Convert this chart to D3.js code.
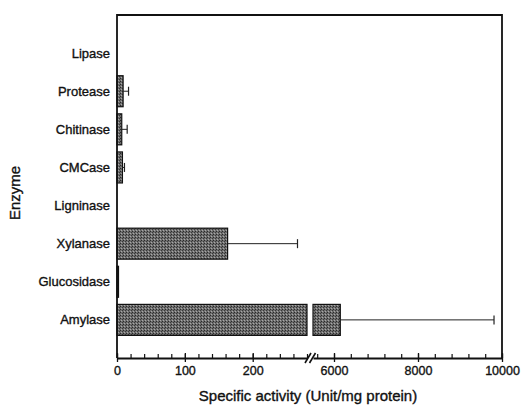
<!DOCTYPE html>
<html>
<head>
<meta charset="utf-8">
<script src="https://cdn.jsdelivr.net/npm/d3@7"></script>
<style>
  body { margin: 0; background: #fff; }
  svg text { font-family: "Liberation Sans", Arial, sans-serif; fill: #111; stroke: #111; stroke-width: 0.35px; }
</style>
</head>
<body>
<div id="chart"></div>
<script>
// enzyme activities
const enzymes = ["Lipase", "Protease", "Chitinase", "CMCase", "Ligninase", "Xylanase", "Glucosidase", "Amylase"];
const activity = [0, 9, 7, 8, 0, 163, 2, 6150];
const errors = [0, 8, 8, 3, 0, 103, 0, 3660];

const lowTicks = [0, 100, 200];
const highTicks = [6000, 8000, 10000];

const width = 522, height = 405;
const margin = { top: 15, right: 20, bottom: 47, left: 117 };
const plotR = width - margin.right, plotB = height - margin.bottom;
const breakL = 307, breakR = 313;

const svg = d3.select("#chart").append("svg")
  .attr("width", width)
  .attr("height", height);

// stippled grey fill like the scanned bars
const pat = svg.append("defs").append("pattern")
  .attr("id", "stip").attr("width", 3).attr("height", 3)
  .attr("patternUnits", "userSpaceOnUse");
pat.append("rect").attr("width", 3).attr("height", 3).attr("fill", "#6e6e6e");
pat.append("rect").attr("width", 1).attr("height", 1).attr("fill", "#2a2a2a");
pat.append("rect").attr("x", 2).attr("y", 1).attr("width", 1).attr("height", 1).attr("fill", "#3a3a3a");
pat.append("rect").attr("x", 1).attr("y", 2).attr("width", 1).attr("height", 1).attr("fill", "#a8a8a8");

// broken x axis: two linear pieces
const xLow = d3.scaleLinear().domain([0, 280]).range([margin.left, breakL]);
const xHigh = d3.scaleLinear().domain([5500, 10000]).range([breakR, plotR]);
const y = d3.scalePoint().domain(enzymes).range([margin.top, plotB]).padding(1);
const barH = 31;

const rows = enzymes.map((name, i) => ({ name: name, v: activity[i], e: errors[i] }));

// bars
rows.forEach(d => {
  if (d.v <= 0) return;
  const y0 = y(d.name) - barH / 2;
  if (d.v <= 280) {
    svg.append("rect")
      .attr("x", margin.left).attr("y", y0)
      .attr("width", Math.max(xLow(d.v) - margin.left, 1.5)).attr("height", barH)
      .attr("fill", "url(#stip)").attr("stroke", "#111").attr("stroke-width", 1.2);
  } else {
    svg.append("rect")
      .attr("x", margin.left).attr("y", y0)
      .attr("width", breakL - margin.left).attr("height", barH)
      .attr("fill", "url(#stip)").attr("stroke", "#111").attr("stroke-width", 1.2);
    svg.append("rect")
      .attr("x", breakR).attr("y", y0)
      .attr("width", xHigh(d.v) - breakR).attr("height", barH)
      .attr("fill", "url(#stip)").attr("stroke", "#111").attr("stroke-width", 1.2);
  }
});

// error bars (positive side only)
rows.forEach(d => {
  if (d.e <= 0) return;
  const sc = d.v <= 280 ? xLow : xHigh;
  const cy = y(d.name);
  svg.append("line")
    .attr("x1", sc(d.v)).attr("x2", sc(d.v + d.e))
    .attr("y1", cy).attr("y2", cy)
    .attr("stroke", "#222").attr("stroke-width", 1);
  svg.append("line")
    .attr("x1", sc(d.v + d.e)).attr("x2", sc(d.v + d.e))
    .attr("y1", cy - 4.5).attr("y2", cy + 4.5)
    .attr("stroke", "#222").attr("stroke-width", 1.2);
});

// frame: left axis, top and right borders
svg.append("path")
  .attr("d", `M${margin.left},${plotB}V${margin.top}H${plotR}V${plotB}`)
  .attr("fill", "none").attr("stroke", "#111").attr("stroke-width", 1.8);

// x axis pieces
const axLow = svg.append("g").attr("transform", `translate(0,${plotB})`)
  .call(d3.axisBottom(xLow).tickValues(d3.range(0, 281, 20)).tickSize(0).tickFormat(""));
const axHigh = svg.append("g").attr("transform", `translate(0,${plotB})`)
  .call(d3.axisBottom(xHigh).tickValues(d3.range(5600, 10001, 400)).tickSize(0).tickFormat(""));
[axLow, axHigh].forEach(g => {
  g.select(".domain").attr("stroke", "#111").attr("stroke-width", 1.8);
  g.selectAll(".tick line").attr("y1", -4).attr("y2", 0).attr("stroke", "#111").attr("stroke-width", 1.2);
});

// major ticks and labels
function majors(scale, vals) {
  const g = svg.append("g").attr("transform", `translate(0,${plotB})`)
    .call(d3.axisBottom(scale).tickValues(vals).tickSize(4).tickPadding(4).tickFormat(d3.format("d")));
  g.select(".domain").remove();
  g.selectAll(".tick line").attr("y1", -5).attr("y2", 4).attr("stroke", "#111").attr("stroke-width", 1.3);
  g.selectAll(".tick text").attr("font-size", 12.5).attr("fill", "#111")
    .attr("font-family", "Liberation Sans, Arial, sans-serif");
}
majors(xLow, lowTicks);
majors(xHigh, highTicks);

// break marks
[-2, 2.5].forEach(dx => {
  const cx = (breakL + breakR) / 2 + dx;
  svg.append("line")
    .attr("x1", cx - 3).attr("x2", cx + 3)
    .attr("y1", plotB + 5).attr("y2", plotB - 5)
    .attr("stroke", "#111").attr("stroke-width", 1.6);
});

// category labels
svg.append("g").selectAll("text")
  .data(enzymes).enter().append("text")
  .attr("x", margin.left - 7)
  .attr("y", d => y(d))
  .attr("dy", "0.35em")
  .attr("text-anchor", "end")
  .attr("font-size", 13)
  .text(d => d);

// axis titles
svg.append("text")
  .attr("x", 308).attr("y", 401)
  .attr("text-anchor", "middle")
  .attr("font-size", 15)
  .text("Specific activity (Unit/mg protein)");

svg.append("text")
  .attr("transform", "translate(20,193) rotate(-90)")
  .attr("text-anchor", "middle")
  .attr("font-size", 15)
  .text("Enzyme");
</script>
</body>
</html>
